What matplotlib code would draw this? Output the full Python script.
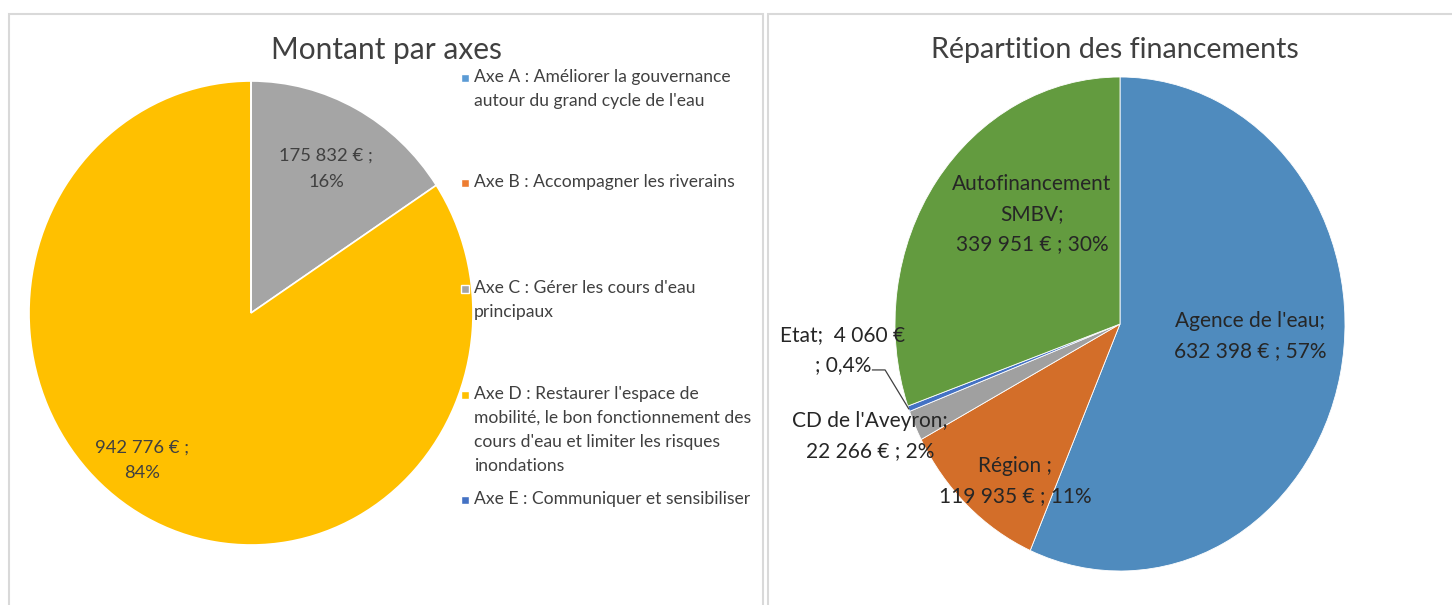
import matplotlib
matplotlib.use("Agg")
import matplotlib.pyplot as plt
from matplotlib.patches import Rectangle
from matplotlib.lines import Line2D
import numpy as np

plt.rcParams['font.family'] = ['Lato', 'DejaVu Sans']

# ---------------- data ----------------
axes_labels = [
    "Axe A : Améliorer la gouvernance\nautour du grand cycle de l'eau",
    "Axe B : Accompagner les riverains",
    "Axe C : Gérer les cours d'eau\nprincipaux",
    "Axe D : Restaurer l'espace de\nmobilité, le bon fonctionnement des\ncours d'eau et limiter les risques\ninondations",
    "Axe E : Communiquer et sensibiliser",
]
axes_values = [0, 0, 175832, 942776, 0]
axes_colors = ["#5B9BD5", "#ED7D31", "#A5A5A5", "#FFC000", "#4472C4"]
axes_datalabels = ["", "", "175 832 € ;\n16%", "942 776 € ;\n84%", ""]

fin_labels = ["Agence de l'eau", "Région", "CD de l'Aveyron", "Etat", "Autofinancement SMBV"]
fin_values = [632398, 119935, 22266, 4060, 339951]
fin_colors = ["#4F8BBE", "#D36E29", "#A0A0A0", "#4472C4", "#639B3F"]
fin_datalabels = [
    "Agence de l'eau;\n632 398 € ; 57%",
    "Région ;\n119 935 € ; 11%",
    "CD de l'Aveyron;\n22 266 € ; 2%",
    "Etat;  4 060 €\n; 0,4%",
    "Autofinancement\nSMBV;\n339 951 € ; 30%",
]

W, H = 1452, 605
fig = plt.figure(figsize=(W / 100, H / 100), dpi=100)

def fx(x):
    return x / W

def fy(y):
    return 1 - y / H

# panel frames
fig.patches.append(Rectangle((fx(9), fy(640)), fx(763) - fx(9), fy(14) - fy(640),
                             transform=fig.transFigure, fill=False,
                             edgecolor="#D9D9D9", linewidth=1.5))
fig.patches.append(Rectangle((fx(768), fy(640)), fx(1500) - fx(768), fy(14) - fy(640),
                             transform=fig.transFigure, fill=False,
                             edgecolor="#D9D9D9", linewidth=1.5))

# titles
fig.text(fx(386), fy(50), "Montant par axes", ha="center", va="center",
         fontsize=21.5, color="#404040")
fig.text(fx(1115), fy(50), "Répartition des financements", ha="center", va="center",
         fontsize=20.6, color="#404040")

# ---------------- left pie ----------------
cx, cy, rx, ry = 251, 313, 222, 232
axL = fig.add_axes([fx(cx - rx), fy(cy + ry), (2 * rx) / W, (2 * ry) / H])
axL.pie(axes_values, colors=axes_colors, startangle=90, counterclock=False,
        radius=1, wedgeprops=dict(edgecolor="white", linewidth=1.2))
axL.set_aspect("auto")
axL.set_xlim(-1, 1)
axL.set_ylim(-1, 1)
axL.axis("off")

left_label_pos = {2: (0.338, 0.621), 3: (-0.49, -0.634)}
for i, (x, y) in left_label_pos.items():
    axL.text(x, y, axes_datalabels[i], ha="center", va="center", fontsize=13.2,
             color="#404040", linespacing=1.75)

# legend (manual, Excel-like spacing)
leg_first = [78, 183, 289, 395, 500]
for lab, col, yc in zip(axes_labels, axes_colors, leg_first):
    fig.patches.append(Rectangle((fx(461), fy(yc + 4)), 8 / W, 8 / H,
                                 transform=fig.transFigure, facecolor=col,
                                 edgecolor="white", linewidth=1.0, zorder=5))
    fig.text(fx(474), fy(yc - 9), lab, ha="left", va="top", fontsize=12.6,
             color="#404040", linespacing=1.62, zorder=6)

# ---------------- right pie ----------------
cx2, cy2, rx2, ry2 = 1120, 324, 225, 247
axR = fig.add_axes([fx(cx2 - rx2), fy(cy2 + ry2), (2 * rx2) / W, (2 * ry2) / H])
wedges, _ = axR.pie(fin_values, colors=fin_colors, startangle=90, counterclock=False,
                    radius=1, wedgeprops=dict(edgecolor="white", linewidth=0.6))
axR.set_aspect("auto")
axR.set_xlim(-1, 1)
axR.set_ylim(-1, 1)
axR.axis("off")

right_pos = [(0.578, -0.049), (-0.467, -0.636), (-1.111, -0.453),
             (-1.231, -0.105), (-0.391, 0.445)]
for lab, (x, y) in zip(fin_datalabels, right_pos):
    axR.text(x, y, lab, ha="center", va="center", fontsize=15, color="#262626",
             linespacing=1.6, clip_on=False)

# leader line for Etat
w = wedges[3]
mid = np.deg2rad((w.theta1 + w.theta2) / 2)
ex, ey = np.cos(mid), np.sin(mid)
axR.add_line(Line2D([-1.10, -1.044, ex], [-0.186, -0.186, ey], color="#404040",
                    linewidth=0.9, clip_on=False))

fig.savefig("out.png", dpi=100, facecolor="white")
